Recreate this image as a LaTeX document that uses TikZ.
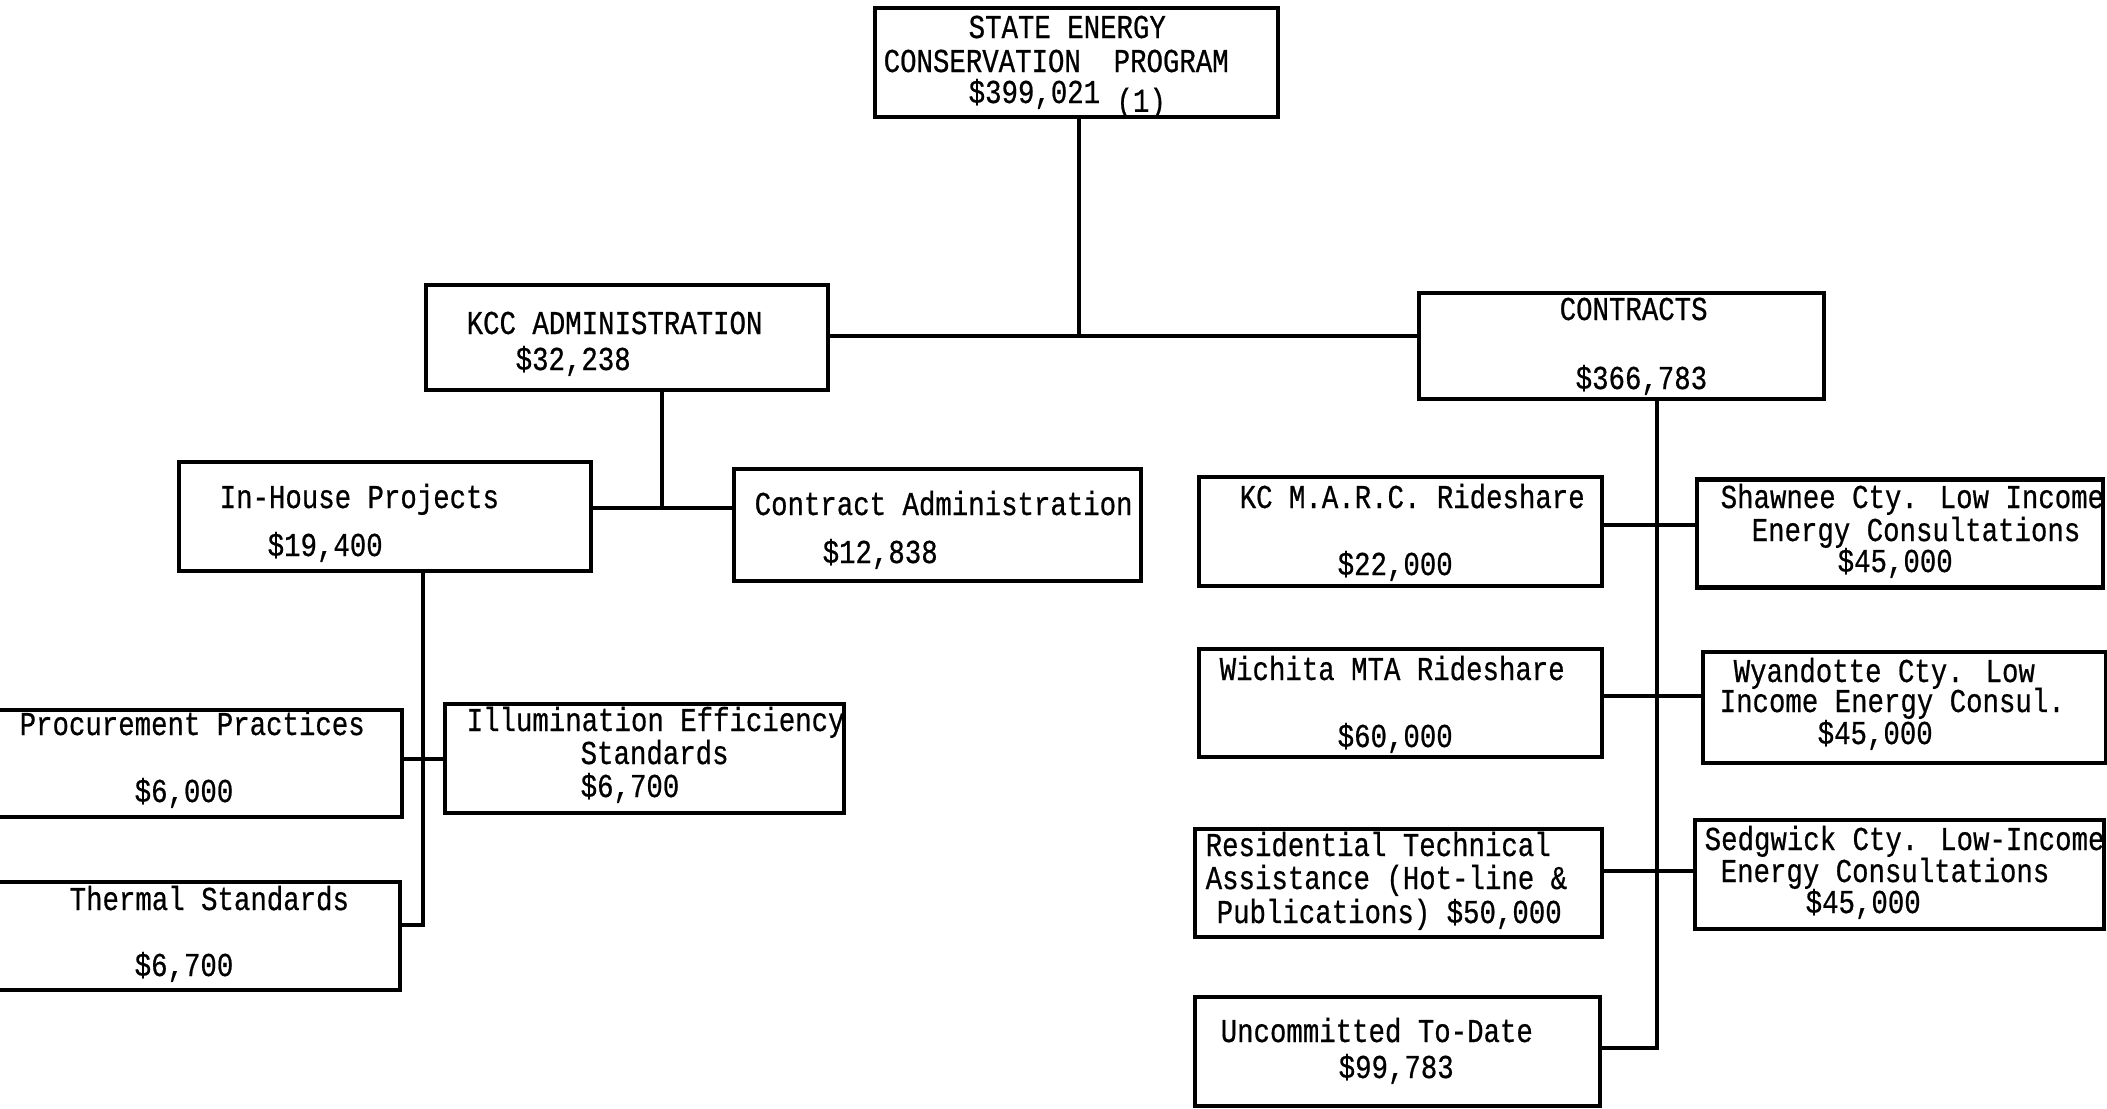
\documentclass[tikz,border=0pt]{standalone}
\usepackage{fontspec}
\usepackage{tikz}
\newfontfamily\typer[FakeStretch=0.82, FakeBold=0.6]{Liberation Mono}

\tikzset{
  box/.style={draw, line width=1.4pt, outer sep=0pt, inner sep=0pt},
  lbl/.style={anchor=base west, inner sep=0pt, font=\typer\fontsize{9.5pt}{11pt}\selectfont},
  link/.style={line width=1.1pt}
}

\begin{document}
\begin{tikzpicture}
        % Page
        \fill[white] (0,0) rectangle (21.07,-11.08);
        \useasboundingbox (0,0) rectangle (21.07,-11.08);

        % Boxes
        \node[box, minimum width=4.03cm, minimum height=1.09cm] (sec) at (10.765,-0.625) {};
        \node[box, minimum width=4.02cm, minimum height=1.05cm] (kcc) at (6.27,-3.375) {};
        \node[box, minimum width=4.05cm, minimum height=1.06cm] (contracts) at (16.215,-3.46) {};
        \node[box, minimum width=4.12cm, minimum height=1.09cm] (inhouse) at (3.85,-5.165) {};
        \node[box, minimum width=4.07cm, minimum height=1.12cm] (cadmin) at (9.375,-5.25) {};
        \node[box, minimum width=4.22cm, minimum height=1.07cm] (procure) at (1.91,-7.635) {};
        \node[box, minimum width=3.99cm, minimum height=1.09cm] (illum) at (6.445,-7.585) {};
        \node[box, minimum width=4.20cm, minimum height=1.08cm] (thermal) at (1.90,-9.36) {};
        \node[box, minimum width=4.03cm, minimum height=1.09cm] (marc) at (14.005,-5.315) {};
        \node[box, minimum width=4.06cm, minimum height=1.08cm] (shawnee) at (19.00,-5.335) {};
        \node[box, minimum width=4.03cm, minimum height=1.08cm] (wichita) at (14.005,-7.03) {};
        \node[box, minimum width=4.03cm, minimum height=1.11cm] (wyandotte) at (19.045,-7.075) {};
        \node[box, minimum width=4.07cm, minimum height=1.08cm] (resid) at (13.985,-8.83) {};
        \node[box, minimum width=4.09cm, minimum height=1.09cm] (sedgwick) at (18.995,-8.745) {};
        \node[box, minimum width=4.05cm, minimum height=1.09cm] (uncom) at (13.975,-10.515) {};

        % Texts
        \node[lbl] (sec-a) at (9.68,-0.38) {STATE ENERGY};
        \node[lbl] (sec-b) at (8.83,-0.72) {CONSERVATION\ \ PROGRAM};
        \node[lbl] (sec-c) at (9.68,-1.03) {\$399,021 \raisebox{-2.5pt}{(1)}};
        \node[lbl] (kcc-a) at (4.66,-3.34) {KCC ADMINISTRATION};
        \node[lbl] (kcc-b) at (5.15,-3.70) {\$32,238};
        \node[lbl] (contracts-a) at (15.59,-3.20) {CONTRACTS};
        \node[lbl] (contracts-b) at (15.75,-3.89) {\$366,783};
        \node[lbl] (inhouse-a) at (2.19,-5.08) {In-House Projects};
        \node[lbl] (inhouse-b) at (2.67,-5.56) {\$19,400};
        \node[lbl] (cadmin-a) at (7.54,-5.15) {Contract Administration};
        \node[lbl] (cadmin-b) at (8.22,-5.63) {\$12,838};
        \node[lbl] (procure-a) at (0.19,-7.35) {Procurement Practices};
        \node[lbl] (procure-b) at (1.34,-8.02) {\$6,000};
        \node[lbl] (illum-a) at (4.66,-7.31) {Illumination Efficiency};
        \node[lbl] (illum-b) at (5.80,-7.64) {Standards};
        \node[lbl] (illum-c) at (5.80,-7.97) {\$6,700};
        \node[lbl] (thermal-a) at (0.69,-9.10) {Thermal Standards};
        \node[lbl] (thermal-b) at (1.34,-9.76) {\$6,700};
        \node[lbl] (marc-a) at (12.39,-5.08) {KC M.A.R.C. Rideshare};
        \node[lbl] (marc-b) at (13.37,-5.75) {\$22,000};
        \node[lbl] (shawnee-a) at (17.20,-5.08) {Shawnee Cty. Low Income};
        \node[lbl] (shawnee-b) at (17.51,-5.41) {Energy Consultations};
        \node[lbl] (shawnee-c) at (18.37,-5.72) {\$45,000};
        \node[lbl] (wichita-a) at (12.19,-6.80) {Wichita MTA Rideshare};
        \node[lbl] (wichita-b) at (13.37,-7.47) {\$60,000};
        \node[lbl] (wyandotte-a) at (17.33,-6.82) {Wyandotte Cty. Low};
        \node[lbl] (wyandotte-b) at (17.19,-7.12) {Income Energy Consul.};
        \node[lbl] (wyandotte-c) at (18.17,-7.44) {\$45,000};
        \node[lbl] (resid-a) at (12.05,-8.56) {Residential Technical};
        \node[lbl] (resid-b) at (12.05,-8.89) {Assistance (Hot-line \&};
        \node[lbl] (resid-c) at (12.16,-9.23) {Publications) \$50,000};
        \node[lbl] (sedgwick-a) at (17.04,-8.50) {Sedgwick Cty. Low-Income};
        \node[lbl] (sedgwick-b) at (17.20,-8.82) {Energy Consultations};
        \node[lbl] (sedgwick-c) at (18.05,-9.13) {\$45,000};
        \node[lbl] (uncom-a) at (12.20,-10.42) {Uncommitted To-Date};
        \node[lbl] (uncom-b) at (13.38,-10.78) {\$99,783};

        % Junctions
        \coordinate (hub) at (10.79,-3.36);
        \coordinate (kj) at (6.62,-5.08);
        \coordinate (ip) at (4.23,-7.59);
        \coordinate (ij) at (4.23,-9.25);
        \coordinate (cj) at (16.57,-10.48);

        % Connectors
        \draw[link] (sec.south -| hub) -- (hub);
        \draw[link] (kcc.east |- hub) -- (contracts.west |- hub);
        \draw[link] (kcc.south -| kj) -- (kj);
        \draw[link] (inhouse.east |- kj) -- (cadmin.west |- kj);
        \draw[link] (inhouse.south -| ij) -- (ij) -- (thermal.east |- ij);
        \draw[link] (procure.east |- ip) -- (illum.west |- ip);
        \draw[link] (contracts.south -| cj) -- (cj) -- (uncom.east |- cj);
        \draw[link] (marc.east |- 0,-5.25) -- (shawnee.west |- 0,-5.25);
        \draw[link] (wichita.east |- 0,-6.96) -- (wyandotte.west |- 0,-6.96);
        \draw[link] (resid.east |- 0,-8.71) -- (sedgwick.west |- 0,-8.71);
    \end{tikzpicture}
\end{document}
